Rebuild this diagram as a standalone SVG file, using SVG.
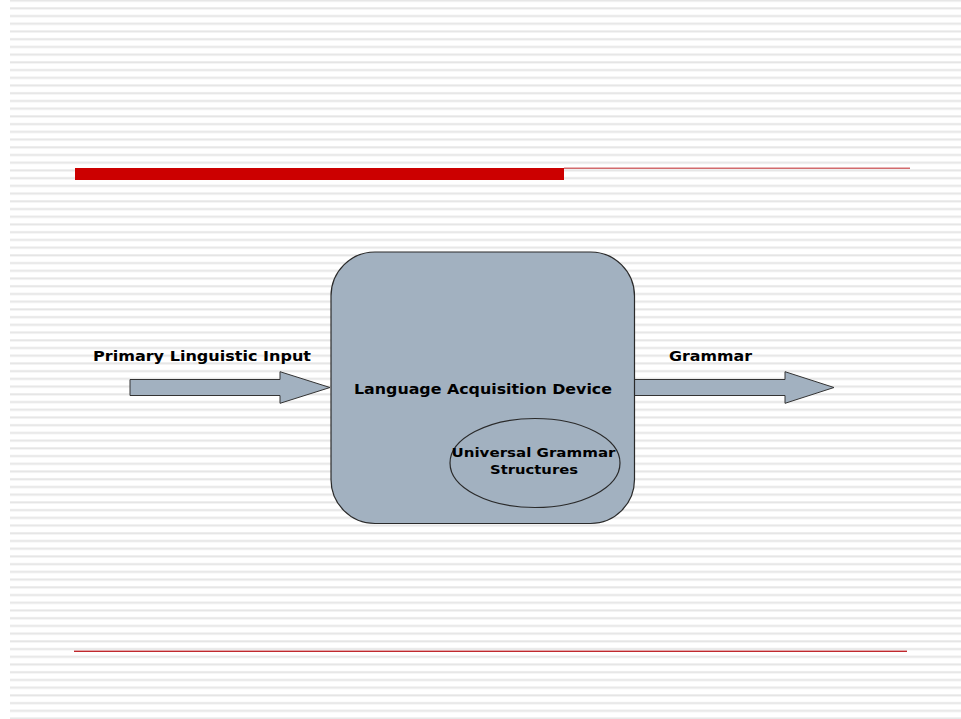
<svg xmlns="http://www.w3.org/2000/svg" width="961" height="719" viewBox="0 0 961 719">
  <style>
    .lbl { font-family: "DejaVu Sans", Verdana, sans-serif; font-weight: bold; fill: #000; }
    .shape { fill: #a2b1c0; stroke: #2a2a2a; stroke-width: 1.2; }
    .arrow { fill: #a2b1c0; stroke: #333; stroke-width: 1; }
  </style>
  <defs>
    <pattern id="stripes" patternUnits="userSpaceOnUse" x="0" y="7" width="961" height="7.72">
      <rect x="0" y="0" width="961" height="2.6" fill="#efefef"/>
      <rect x="0" y="0.8" width="961" height="1.1" fill="#e5e5e5"/>
    </pattern>
  </defs>

  <!-- background -->
  <rect x="0" y="0" width="961" height="719" fill="#ffffff"/>
  <rect x="10" y="0" width="951" height="719" fill="url(#stripes)"/>

  <!-- title rule -->
  <rect x="75" y="168" width="489" height="12" fill="#cc0000"/>
  <rect x="564" y="167.6" width="346" height="1.2" fill="#c8474a"/>
  <!-- footer rule -->
  <rect x="74" y="650.6" width="833" height="1.4" fill="#c0282d"/>

  <!-- connectors -->
  <g id="connectors">
    <polygon class="arrow" points="130,379.5 280,379.5 280,371.7 330,387.5 280,403.3 280,395.5 130,395.5"/>
    <polygon class="arrow" points="634,379.5 785,379.5 785,371.7 834,387.5 785,403.3 785,395.5 634,395.5"/>
  </g>

  <!-- labels of connectors -->
  <g id="label-input">
    <text class="lbl" x="93" y="360.5" font-size="14" textLength="218" lengthAdjust="spacingAndGlyphs">Primary Linguistic Input</text>
  </g>
  <g id="label-grammar">
    <text class="lbl" x="669" y="360.5" font-size="14" textLength="83" lengthAdjust="spacingAndGlyphs">Grammar</text>
  </g>

  <!-- device -->
  <g id="node-lad">
    <rect class="shape" x="331" y="252" width="303.5" height="271.5" rx="44" ry="44"/>
    <text class="lbl" x="354" y="394" font-size="14.5" textLength="258" lengthAdjust="spacingAndGlyphs">Language Acquisition Device</text>
  </g>

  <!-- inner structures -->
  <g id="node-ug">
    <ellipse class="shape" cx="535" cy="463" rx="85" ry="44.5" stroke-width="1"/>
    <text class="lbl" x="451.5" y="457" font-size="13" textLength="164" lengthAdjust="spacingAndGlyphs">Universal Grammar</text>
    <text class="lbl" x="490" y="473.5" font-size="13" textLength="88" lengthAdjust="spacingAndGlyphs">Structures</text>
  </g>
</svg>
